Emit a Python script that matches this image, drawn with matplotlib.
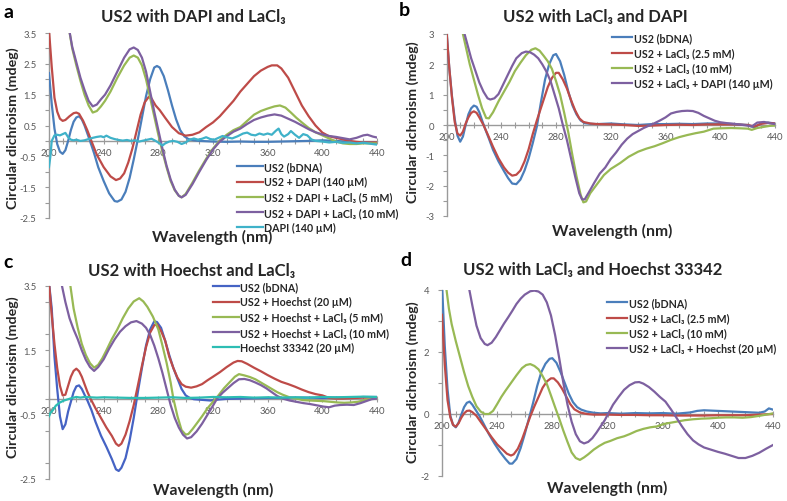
import numpy as np
import matplotlib
matplotlib.use('Agg')
import matplotlib.pyplot as plt
from matplotlib.ticker import MultipleLocator, FixedLocator

plt.rcParams['font.family'] = ['Lato', 'DejaVu Sans']

W, H = 787, 502

# ---- panel a: US2 with DAPI and LaCl3  (wavelength nm, CD mdeg) ----
a_bdna = [(200, 2.2), (202, 1.2), (204, 0.4), (206, -0.1), (208, -0.35), (210, -0.42), (212, -0.3), (214, 0.0),
          (216, 0.35), (218, 0.62), (220, 0.76), (222, 0.8), (224, 0.7), (226, 0.5), (228, 0.25), (230, 0.0),
          (233, -0.4), (236, -0.85), (240, -1.3), (244, -1.7), (248, -1.95), (250, -1.97), (253, -1.9),
          (256, -1.65), (259, -1.2), (262, -0.6), (265, 0.05), (268, 0.75), (271, 1.45), (274, 2.0), (277, 2.38),
          (279, 2.43), (281, 2.38), (284, 2.1), (287, 1.65), (290, 1.15), (293, 0.7), (296, 0.35), (299, 0.15),
          (302, 0.06), (306, 0.02), (310, 0.0), (320, -0.02), (330, -0.03), (340, -0.02), (350, -0.03),
          (360, -0.03), (370, -0.02), (380, -0.01), (390, 0.0), (400, 0.02), (410, 0.0), (420, -0.03),
          (430, -0.05), (440, -0.06)]
a_dapi = [(200, 3.6), (202, 2.4), (204, 1.4), (206, 0.95), (208, 0.72), (210, 0.65), (212, 0.68), (215, 0.8),
          (218, 0.9), (220, 0.92), (222, 0.88), (225, 0.65), (228, 0.35), (231, 0.0), (235, -0.45), (240, -0.85),
          (245, -1.15), (249, -1.27), (252, -1.22), (255, -1.05), (258, -0.7), (261, -0.25), (264, 0.3),
          (267, 0.85), (270, 1.25), (273, 1.43), (275, 1.38), (278, 1.15), (281, 1.0), (285, 0.75), (290, 0.45),
          (295, 0.25), (300, 0.17), (305, 0.2), (310, 0.28), (315, 0.45), (320, 0.6), (325, 0.8), (330, 1.05),
          (335, 1.3), (340, 1.6), (345, 1.85), (350, 2.1), (355, 2.28), (360, 2.4), (363, 2.45), (367, 2.45),
          (370, 2.35), (375, 2.05), (380, 1.6), (385, 1.15), (390, 0.8), (395, 0.5), (400, 0.27), (405, 0.15),
          (410, 0.1), (415, 0.05), (420, 0.0), (425, -0.03), (430, -0.05), (435, -0.05), (440, -0.05)]
a_la5 = [(214, 3.8), (217, 3.0), (220, 2.45), (223, 1.95), (226, 1.5), (229, 1.15), (232, 0.92), (235, 0.97),
         (238, 1.12), (241, 1.3), (245, 1.6), (250, 2.05), (255, 2.45), (259, 2.7), (262, 2.77), (265, 2.7),
         (268, 2.45), (271, 2.0), (274, 1.4), (277, 0.8), (280, 0.2), (283, -0.35), (286, -0.85), (289, -1.3),
         (292, -1.6), (295, -1.78), (297, -1.83), (300, -1.72), (305, -1.35), (310, -0.95), (315, -0.58),
         (320, -0.25), (325, 0.02), (330, 0.2), (335, 0.35), (340, 0.45), (345, 0.65), (350, 0.85), (355, 0.97),
         (360, 1.05), (365, 1.12), (369, 1.15), (373, 1.08), (377, 0.92), (381, 0.75), (385, 0.6), (390, 0.42),
         (395, 0.28), (400, 0.18), (405, 0.08), (410, -0.02), (415, -0.08), (420, -0.1), (425, -0.1),
         (430, -0.08), (435, -0.08), (440, -0.08)]
a_la10 = [(214, 3.8), (217, 3.05), (220, 2.55), (223, 2.05), (226, 1.65), (229, 1.3), (232, 1.12), (235, 1.18),
          (238, 1.35), (241, 1.5), (245, 1.8), (250, 2.25), (255, 2.7), (259, 2.97), (262, 3.03), (265, 2.95),
          (268, 2.7), (271, 2.25), (274, 1.6), (277, 0.95), (280, 0.35), (283, -0.25), (286, -0.8), (289, -1.25),
          (292, -1.58), (295, -1.78), (297, -1.83), (300, -1.75), (305, -1.4), (310, -1.0), (315, -0.62),
          (320, -0.28), (325, -0.02), (330, 0.15), (335, 0.3), (340, 0.4), (345, 0.55), (350, 0.68), (355, 0.76),
          (360, 0.82), (365, 0.86), (370, 0.82), (375, 0.72), (380, 0.62), (385, 0.5), (390, 0.38), (395, 0.28),
          (400, 0.21), (405, 0.16), (410, 0.13), (415, 0.09), (420, 0.05), (425, 0.1), (430, 0.18), (433, 0.2),
          (437, 0.14), (440, 0.11)]
a_dapi_only = [(200, -0.85), (201, -0.5), (202, 0.0), (204, 0.18), (206, 0.2), (208, 0.18), (210, 0.22),
               (212, 0.26), (214, 0.12), (216, 0.04), (218, 0.02), (220, 0.04), (223, 0.0), (226, 0.02),
               (229, 0.06), (232, 0.1), (235, 0.13), (238, 0.15), (240, 0.12), (242, 0.17), (245, 0.1), (248, 0.06),
               (251, 0.03), (254, 0.01), (257, 0.03), (260, 0.0), (263, 0.02), (266, -0.02), (269, 0.01),
               (272, 0.04), (275, 0.07), (278, 0.0), (281, -0.08), (283, -0.15), (285, -0.08), (288, -0.02),
               (291, 0.0), (294, -0.03), (297, -0.1), (300, -0.05), (303, 0.04), (306, 0.08), (309, 0.04),
               (312, 0.07), (315, 0.12), (318, 0.06), (321, 0.04), (324, 0.1), (327, 0.16), (330, 0.12), (334, 0.08),
               (338, 0.15), (342, 0.24), (345, 0.27), (348, 0.2), (351, 0.18), (354, 0.24), (357, 0.2), (360, 0.24),
               (363, 0.2), (366, 0.33), (368, 0.4), (370, 0.22), (372, 0.14), (375, 0.22), (377, 0.32), (380, 0.2),
               (383, 0.1), (386, 0.22), (389, 0.18), (392, 0.05), (395, 0.0), (400, -0.02), (405, -0.05),
               (410, -0.03), (415, -0.06), (420, -0.05), (425, -0.08), (430, -0.06), (435, -0.09), (440, -0.12)]

# ---- panel b: US2 with LaCl3 and DAPI ----
b_bdna = [(200, 3.1), (202, 1.9), (204, 0.95), (206, 0.2), (208, -0.35), (210, -0.55), (212, -0.38), (214, 0.0),
          (216, 0.35), (218, 0.55), (220, 0.64), (222, 0.6), (224, 0.42), (226, 0.15), (228, -0.1), (231, -0.45),
          (234, -0.82), (238, -1.2), (242, -1.52), (245, -1.75), (248, -1.93), (251, -1.95), (254, -1.8),
          (257, -1.5), (260, -1.1), (263, -0.6), (266, -0.05), (269, 0.75), (272, 1.5), (275, 2.0), (278, 2.3),
          (280, 2.34), (283, 2.1), (286, 1.65), (289, 1.1), (292, 0.65), (295, 0.35), (298, 0.15), (301, 0.06),
          (305, 0.04), (310, 0.03), (320, 0.05), (330, 0.02), (340, 0.0), (350, 0.03), (360, 0.03), (370, 0.04),
          (380, 0.03), (390, 0.05), (400, 0.05), (410, 0.03), (420, 0.0), (425, -0.08), (430, 0.06), (435, 0.08),
          (440, 0.05)]
b_la25 = [(200, 3.1), (202, 1.9), (204, 0.9), (206, 0.1), (208, -0.28), (210, -0.35), (212, -0.22), (214, 0.05),
          (216, 0.25), (218, 0.4), (220, 0.45), (222, 0.4), (224, 0.25), (227, 0.0), (230, -0.3), (234, -0.72),
          (238, -1.1), (242, -1.4), (245, -1.57), (248, -1.67), (251, -1.64), (254, -1.5), (257, -1.2),
          (260, -0.8), (263, -0.3), (266, 0.15), (270, 0.7), (274, 1.25), (277, 1.55), (280, 1.72), (282, 1.72),
          (285, 1.5), (288, 1.2), (291, 0.82), (294, 0.48), (297, 0.22), (300, 0.1), (305, 0.05), (310, 0.03),
          (320, 0.02), (330, 0.0), (340, -0.03), (350, -0.02), (360, 0.0), (370, 0.01), (380, 0.0), (390, 0.02),
          (400, 0.02), (410, 0.02), (420, 0.0), (425, -0.05), (430, 0.04), (435, 0.07), (440, 0.05)]
b_la10 = [(211, 3.2), (214, 2.6), (217, 2.0), (220, 1.5), (223, 1.0), (226, 0.55), (229, 0.23), (231, 0.22),
          (234, 0.42), (238, 0.78), (242, 1.1), (246, 1.42), (250, 1.78), (254, 2.05), (258, 2.3), (262, 2.48),
          (265, 2.53), (268, 2.45), (271, 2.28), (274, 2.1), (277, 1.85), (280, 1.45), (283, 1.0), (286, 0.4),
          (289, -0.25), (292, -1.0), (295, -1.7), (298, -2.3), (300, -2.55), (302, -2.52), (305, -2.25),
          (310, -1.95), (315, -1.65), (320, -1.45), (327, -1.25), (333, -1.05), (340, -0.88), (346, -0.78),
          (352, -0.7), (358, -0.6), (364, -0.49), (370, -0.4), (376, -0.33), (382, -0.27), (388, -0.22),
          (395, -0.12), (400, -0.11), (408, -0.1), (415, -0.11), (420, -0.12), (423, -0.16), (427, -0.1),
          (432, -0.06), (436, -0.03), (440, -0.02)]
b_dapi = [(212, 3.2), (215, 2.7), (218, 2.2), (221, 1.8), (224, 1.4), (227, 1.1), (230, 0.88), (232, 0.84),
          (235, 0.88), (238, 1.02), (241, 1.3), (244, 1.58), (248, 1.95), (251, 2.2), (255, 2.37), (258, 2.42),
          (261, 2.4), (264, 2.32), (267, 2.2), (270, 2.0), (273, 1.76), (276, 1.45), (279, 1.0), (282, 0.55),
          (285, 0.0), (288, -0.5), (291, -1.1), (294, -1.7), (297, -2.25), (299, -2.45), (301, -2.45),
          (304, -2.22), (308, -1.9), (312, -1.6), (316, -1.4), (320, -1.12), (324, -0.9), (328, -0.65),
          (332, -0.45), (336, -0.3), (340, -0.2), (344, -0.1), (348, -0.02), (352, 0.06), (356, 0.15),
          (360, 0.25), (364, 0.38), (368, 0.43), (372, 0.46), (376, 0.47), (380, 0.46), (384, 0.4), (388, 0.3),
          (392, 0.22), (396, 0.14), (400, 0.09), (405, 0.06), (410, 0.04), (415, 0.01), (420, -0.02),
          (423, -0.05), (427, 0.08), (432, 0.1), (436, 0.06), (440, 0.03)]

# ---- panel c: US2 with Hoechst and LaCl3 ----
c_bdna = [(200, 3.6), (202, 2.8), (204, 1.3), (206, 0.3), (208, -0.55), (210, -0.95), (212, -0.8), (214, -0.4),
          (216, -0.1), (218, 0.2), (220, 0.38), (222, 0.41), (224, 0.3), (226, 0.12), (228, -0.05), (231, -0.35),
          (234, -0.72), (238, -1.15), (242, -1.5), (246, -1.88), (249, -2.2), (251, -2.25), (253, -2.15),
          (256, -1.85), (259, -1.3), (262, -0.6), (265, 0.2), (268, 0.95), (271, 1.65), (274, 2.15), (277, 2.4),
          (279, 2.38), (282, 2.2), (285, 1.8), (288, 1.35), (291, 0.95), (294, 0.62), (297, 0.3), (300, 0.1),
          (303, 0.02), (306, -0.02), (312, -0.04), (318, -0.06), (324, -0.03), (330, -0.01), (340, 0.0),
          (350, 0.01), (360, 0.02), (370, 0.02), (380, 0.03), (390, 0.03), (400, 0.02), (410, 0.03), (420, 0.03),
          (430, 0.05), (440, 0.05)]
c_hoe = [(200, 3.6), (202, 2.6), (204, 1.7), (206, 0.95), (208, 0.4), (210, 0.1), (212, 0.12), (214, 0.4),
         (216, 0.68), (218, 0.86), (220, 0.93), (222, 0.85), (224, 0.68), (226, 0.45), (228, 0.22), (230, 0.03),
         (234, -0.3), (238, -0.6), (242, -0.9), (246, -1.16), (249, -1.4), (251, -1.47), (253, -1.4),
         (256, -1.12), (259, -0.7), (262, -0.2), (265, 0.4), (268, 1.02), (271, 1.6), (274, 2.05), (277, 2.28),
         (279, 2.31), (282, 2.1), (285, 1.8), (288, 1.3), (291, 0.95), (294, 0.65), (297, 0.45), (300, 0.37),
         (304, 0.34), (308, 0.38), (312, 0.45), (316, 0.57), (320, 0.68), (325, 0.82), (330, 0.98), (335, 1.12),
         (338, 1.17), (341, 1.16), (345, 1.08), (350, 0.96), (355, 0.85), (360, 0.73), (365, 0.62), (370, 0.52),
         (375, 0.45), (380, 0.37), (385, 0.28), (390, 0.2), (395, 0.14), (400, 0.1), (405, 0.02), (410, 0.0),
         (415, 0.0), (420, 0.01), (425, 0.02), (430, 0.03), (435, 0.03), (440, 0.03)]
c_la5 = [(215, 3.7), (218, 2.8), (221, 2.2), (224, 1.7), (227, 1.35), (230, 1.1), (233, 0.96), (236, 1.05),
         (239, 1.25), (242, 1.5), (246, 1.85), (250, 2.15), (254, 2.5), (258, 2.8), (262, 3.02), (266, 3.12),
         (269, 3.02), (272, 2.85), (276, 2.55), (280, 2.15), (283, 1.65), (286, 1.12), (289, 0.5), (291, 0.0),
         (294, -0.55), (297, -0.98), (300, -1.12), (302, -1.1), (305, -0.95), (308, -0.78), (312, -0.55),
         (316, -0.3), (320, -0.1), (324, 0.1), (328, 0.32), (332, 0.5), (336, 0.68), (339, 0.76), (343, 0.72),
         (347, 0.67), (351, 0.6), (355, 0.5), (359, 0.4), (363, 0.3), (367, 0.2), (371, 0.12), (376, 0.04),
         (381, 0.0), (386, -0.05), (391, -0.06), (396, -0.07), (401, -0.08), (406, -0.1), (411, -0.12),
         (416, -0.13), (421, -0.12), (426, -0.1), (431, -0.05), (436, -0.01), (440, 0.0)]
c_la10 = [(209, 3.6), (212, 3.0), (215, 2.5), (218, 2.15), (221, 1.85), (224, 1.5), (227, 1.2), (230, 0.98),
          (233, 0.86), (236, 0.98), (240, 1.22), (244, 1.55), (248, 1.84), (252, 2.08), (256, 2.25), (260, 2.37),
          (264, 2.41), (268, 2.33), (271, 2.2), (274, 1.98), (277, 1.65), (280, 1.25), (283, 0.8), (286, 0.3),
          (289, -0.2), (292, -0.6), (295, -0.9), (298, -1.12), (301, -1.24), (304, -1.2), (308, -1.02),
          (312, -0.78), (316, -0.5), (320, -0.22), (323, 0.0), (327, 0.18), (331, 0.33), (335, 0.48), (339, 0.6),
          (343, 0.61), (347, 0.57), (351, 0.5), (355, 0.42), (359, 0.32), (363, 0.2), (367, 0.08), (371, 0.0),
          (376, -0.06), (381, -0.1), (386, -0.14), (391, -0.17), (396, -0.21), (401, -0.25), (405, -0.27),
          (409, -0.22), (413, -0.2), (418, -0.19), (423, -0.2), (428, -0.14), (432, -0.08), (436, -0.02),
          (440, 0.0)]
c_h33342 = [(200, -0.55), (201, -0.45), (203, -0.35), (205, -0.22), (208, -0.12), (211, -0.06), (214, -0.02),
            (217, 0.02), (220, 0.05), (223, 0.03), (226, 0.05), (230, 0.04), (235, 0.03), (240, 0.04), (250, 0.03),
            (260, 0.02), (270, 0.02), (280, 0.03), (290, 0.04), (300, 0.02), (310, 0.03), (320, 0.05), (330, 0.04),
            (340, 0.05), (350, 0.03), (360, 0.04), (370, 0.03), (380, 0.04), (390, 0.03), (400, 0.05), (410, 0.04),
            (420, 0.05), (430, 0.06), (440, 0.05)]

# ---- panel d: US2 with LaCl3 and Hoechst 33342 ----
d_bdna = [(200, 4.2), (202, 2.2), (204, 0.8), (206, -0.05), (208, -0.35), (210, -0.43), (212, -0.28), (214, -0.02),
          (216, 0.22), (218, 0.36), (220, 0.4), (222, 0.3), (224, 0.16), (227, -0.05), (230, -0.3), (234, -0.65),
          (238, -0.95), (242, -1.22), (246, -1.45), (249, -1.6), (251, -1.6), (254, -1.45), (257, -1.1),
          (260, -0.65), (263, -0.15), (266, 0.35), (269, 0.9), (272, 1.35), (275, 1.62), (278, 1.78), (280, 1.8),
          (283, 1.65), (286, 1.35), (289, 1.0), (292, 0.65), (295, 0.38), (298, 0.22), (301, 0.14), (305, 0.08),
          (310, 0.04), (315, 0.02), (320, 0.03), (330, 0.01), (340, 0.03), (350, 0.02), (360, 0.03), (370, 0.01),
          (380, 0.05), (385, 0.1), (390, 0.12), (400, 0.1), (410, 0.08), (420, 0.06), (430, 0.04), (434, 0.08),
          (437, 0.18), (440, 0.14)]
d_la25 = [(200, 3.2), (202, 1.6), (204, 0.45), (206, -0.1), (208, -0.35), (210, -0.41), (212, -0.3), (214, -0.12),
          (216, 0.02), (218, 0.1), (220, 0.11), (222, 0.06), (225, -0.06), (228, -0.25), (232, -0.5), (236, -0.75),
          (240, -0.98), (244, -1.15), (247, -1.28), (250, -1.34), (252, -1.3), (255, -1.12), (258, -0.82),
          (261, -0.45), (264, -0.08), (267, 0.25), (270, 0.55), (273, 0.85), (276, 1.05), (279, 1.15), (281, 1.15),
          (284, 1.02), (287, 0.82), (290, 0.57), (293, 0.32), (296, 0.15), (300, 0.05), (305, 0.0), (310, -0.02),
          (320, -0.02), (330, -0.03), (340, -0.03), (350, -0.04), (360, -0.04), (370, -0.05), (380, -0.05),
          (390, -0.05), (400, -0.04), (410, -0.04), (420, -0.04), (430, -0.02), (440, 0.0)]
d_la10 = [(203, 4.1), (205, 3.4), (207, 2.9), (210, 2.35), (213, 1.85), (216, 1.35), (219, 0.9), (222, 0.55),
          (225, 0.25), (228, 0.08), (231, 0.0), (234, 0.0), (237, 0.1), (240, 0.32), (243, 0.55), (246, 0.75),
          (250, 1.0), (254, 1.25), (258, 1.48), (261, 1.58), (264, 1.61), (267, 1.55), (270, 1.44), (273, 1.22),
          (276, 0.97), (279, 0.6), (282, 0.22), (285, -0.15), (288, -0.54), (291, -0.9), (294, -1.24),
          (297, -1.42), (300, -1.48), (303, -1.4), (306, -1.3), (310, -1.15), (314, -1.03), (318, -0.93),
          (322, -0.87), (327, -0.78), (332, -0.72), (336, -0.65), (341, -0.55), (346, -0.48), (351, -0.43),
          (356, -0.4), (361, -0.32), (366, -0.28), (371, -0.24), (376, -0.2), (382, -0.17), (388, -0.15),
          (394, -0.14), (400, -0.12), (406, -0.11), (412, -0.11), (418, -0.12), (424, -0.1), (430, -0.06),
          (435, -0.02), (440, 0.02)]
d_hoe = [(219, 4.2), (222, 3.5), (225, 2.85), (228, 2.45), (231, 2.26), (233, 2.22), (236, 2.3), (239, 2.48),
         (242, 2.7), (245, 2.92), (248, 3.12), (251, 3.33), (254, 3.55), (257, 3.72), (260, 3.85), (264, 3.96),
         (267, 3.98), (270, 3.95), (273, 3.85), (276, 3.6), (279, 3.18), (282, 2.55), (285, 1.8), (288, 1.0),
         (291, 0.3), (294, -0.25), (297, -0.65), (300, -0.88), (303, -0.95), (306, -0.9), (309, -0.78),
         (312, -0.6), (315, -0.4), (318, -0.2), (321, 0.05), (324, 0.3), (328, 0.55), (332, 0.78), (336, 0.93),
         (340, 1.02), (343, 1.03), (346, 0.98), (350, 0.87), (354, 0.72), (358, 0.55), (362, 0.4), (366, 0.15),
         (370, -0.12), (374, -0.4), (378, -0.65), (382, -0.85), (386, -0.98), (390, -1.08), (395, -1.15),
         (400, -1.22), (405, -1.28), (410, -1.35), (415, -1.42), (420, -1.42), (425, -1.35), (430, -1.25),
         (435, -1.12), (440, -1.0)]

a_names = ['US2 (bDNA)', 'US2 + DAPI (140 µM)', 'US2 + DAPI + LaCl₃ (5 mM)',
           'US2 + DAPI + LaCl₃ (10 mM)', 'DAPI (140 µM)']
b_names = ['US2 (bDNA)', 'US2 + LaCl₃ (2.5 mM)', 'US2 + LaCl₃ (10 mM)', 'US2 + LaCl₃ + DAPI (140 µM)']
c_names = ['US2 (bDNA)', 'US2 + Hoechst (20 µM)', 'US2 + Hoechst + LaCl₃ (5 mM)',
           'US2 + Hoechst + LaCl₃ (10 mM)', 'Hoechst 33342 (20 µM)']
d_names = ['US2 (bDNA)', 'US2 + LaCl₃ (2.5 mM)', 'US2 + LaCl₃ (10 mM)', 'US2 + LaCl₃ + Hoechst (20 µM)']

BLUE, RED, GREEN, PURPLE, AQUA = '#4A7EBB', '#BE4B48', '#98B954', '#7D60A0', '#3FB2C9'
AXGRAY = '#9a9a9a'
TXT = '#262626'

fig = plt.figure(figsize=(W / 100, H / 100), dpi=100)


def px(x, y):
    return (x / W, 1 - y / H)


def axrect(l, t, r, b):
    return [l / W, 1 - b / H, (r - l) / W, (b - t) / H]


def draw_panel(rect, series, colors, names, ylim, ymajor, ymin_step, yfmt, leg_xy, hlen):
    ax = fig.add_axes(axrect(*rect))
    for s, c, n in zip(series, colors, names):
        wl, cd = np.array(s).T
        ax.plot(wl, cd, color=c, lw=1.6, label=n, zorder=3, solid_joinstyle='round')
    ax.set_xlim(200, 440)
    ax.set_ylim(*ylim)
    ax.set_facecolor('none')
    for side in ['top', 'right']:
        ax.spines[side].set_visible(False)
    ax.spines['bottom'].set_position(('data', 0))
    for side in ['bottom', 'left']:
        ax.spines[side].set_color(AXGRAY)
        ax.spines[side].set_linewidth(1.0)
    ax.xaxis.set_major_locator(MultipleLocator(40))
    ax.xaxis.set_minor_locator(MultipleLocator(10))
    ax.yaxis.set_major_locator(FixedLocator(ymajor))
    ax.yaxis.set_minor_locator(MultipleLocator(ymin_step))
    ax.set_yticklabels([yfmt % v for v in ymajor])
    ax.tick_params(which='both', colors=AXGRAY, labelcolor='#595959', labelsize=6.8, width=0.8)
    ax.tick_params(axis='x', which='both', direction='inout', length=4, pad=3)
    ax.tick_params(axis='y', which='both', direction='out', length=3, pad=6)
    leg = ax.legend(loc='upper left', bbox_to_anchor=px(*leg_xy), bbox_transform=fig.transFigure,
                    frameon=False, prop={'weight': 'bold', 'size': 7.7}, handlelength=hlen,
                    handletextpad=0.15, labelspacing=0.4, borderpad=0, borderaxespad=0)
    for t in leg.get_texts():
        t.set_color(TXT)
    return ax


draw_panel((49, 34, 377, 219), [a_bdna, a_dapi, a_la5, a_la10, a_dapi_only],
           [BLUE, RED, GREEN, PURPLE, AQUA], a_names, (-2.5, 3.5),
           [3.5, 2.5, 1.5, 0.5, -0.5, -1.5, -2.5], 0.5, '%.1f', (237, 162), 2.4)
draw_panel((446.5, 35, 775, 217), [b_bdna, b_la25, b_la10, b_dapi],
           [BLUE, RED, GREEN, PURPLE], b_names, (-3, 3),
           [3, 2, 1, 0, -1, -2, -3], 0.5, '%d', (612, 33), 1.9)
draw_panel((49, 287, 377, 480), [c_bdna, c_hoe, c_la5, c_la10, c_h33342],
           ['#4563C4', RED, GREEN, PURPLE, '#2DBDB3'], c_names, (-2.5, 3.5),
           [3.5, 1.5, -0.5, -2.5], 1, '%.1f', (213, 282), 2.4)
draw_panel((442, 291, 773, 477), [d_bdna, d_la25, d_la10, d_hoe],
           [BLUE, RED, GREEN, PURPLE], d_names, (-2, 4),
           [4, 2, 0, -2], 1, '%d', (607, 298), 1.9)

# panel letters, titles, axis titles
for (x, y), s in zip([(3, 12), (399, 11), (3, 263), (400, 261)], 'abcd'):
    fig.text(*px(x, y), s, fontsize=14, fontweight='bold', va='center', ha='left', color='black')

titles = [((193, 17), 'US2 with DAPI and LaCl₃'), ((595, 17), 'US2 with LaCl₃ and DAPI'),
          ((192, 271), 'US2 with Hoechst and LaCl₃'), ((593, 270), 'US2 with LaCl₃ and Hoechst 33342')]
for xy, s in titles:
    fig.text(*px(*xy), s, fontsize=12, fontweight='bold', ha='center', va='center', color=TXT)

for xy in [(13, 128), (413, 122), (13, 377), (413, 382)]:
    fig.text(*px(*xy), 'Circular dichroism (mdeg)', fontsize=10.3, fontweight='bold', rotation=90,
             ha='center', va='center', color=TXT)

for xy in [(212, 237), (612, 231), (213, 490), (607, 488)]:
    fig.text(*px(*xy), 'Wavelength (nm)', fontsize=11.3, fontweight='bold', ha='center', va='center', color=TXT)

fig.savefig('out.png', dpi=100)
